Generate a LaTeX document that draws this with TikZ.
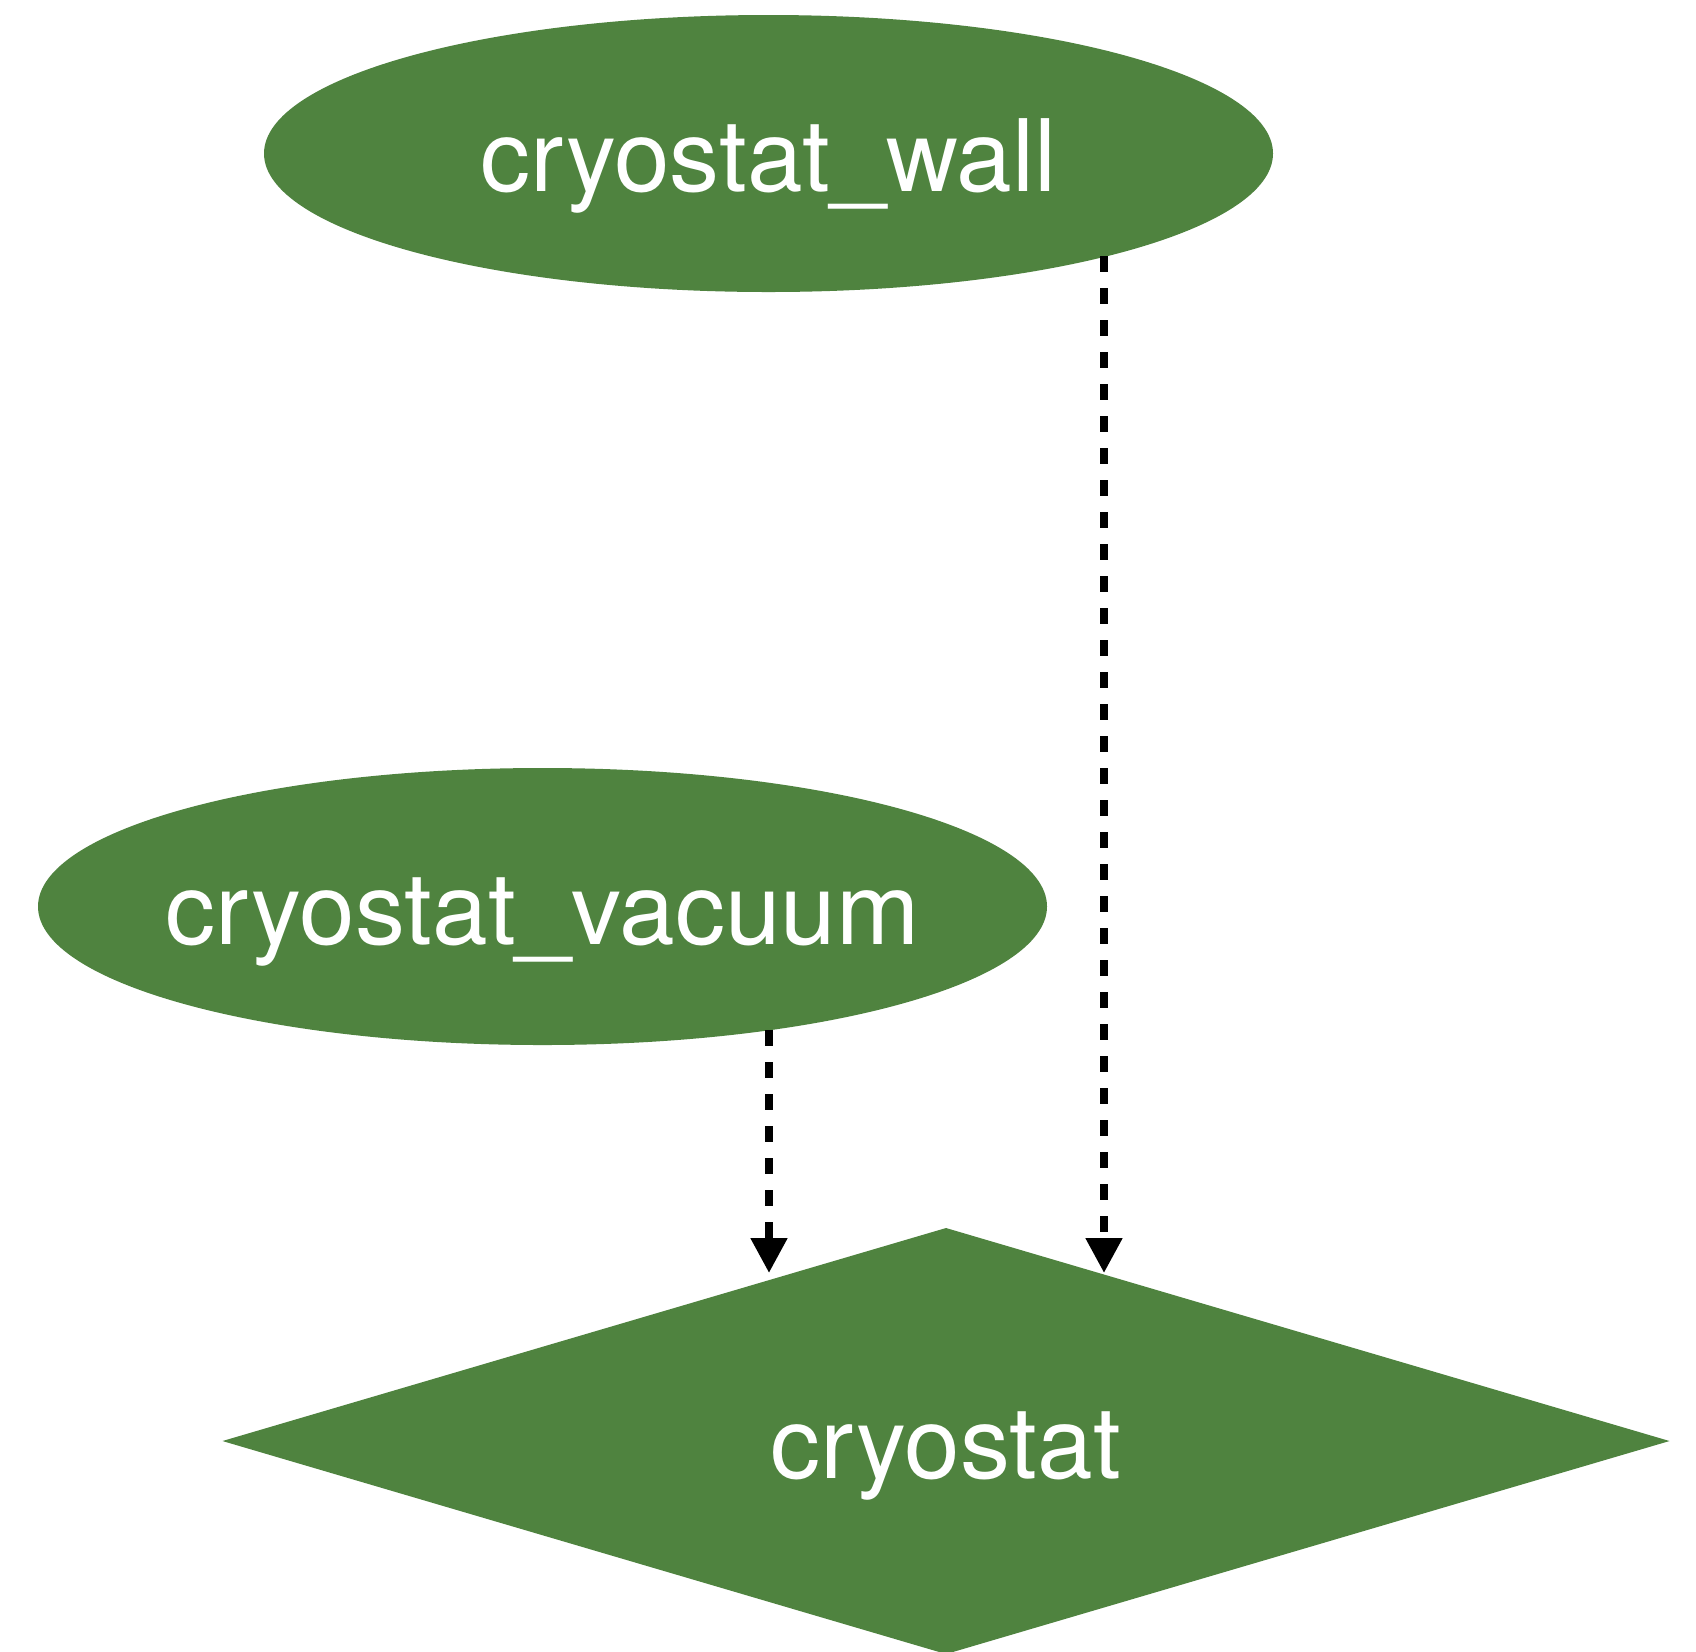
\documentclass[tikz,border=0pt]{standalone}
\usepackage{fontspec}
\setmainfont{TeX Gyre Heros}
\usetikzlibrary{shapes.geometric,arrows.meta}
\definecolor{nodegreen}{RGB}{79,131,63}
\newcommand{\ctext}[1]{\makebox[0pt][c]{#1}}
\begin{document}
\begin{tikzpicture}[x=0.5pt,y=-0.5pt,
  lbl/.style={fill=nodegreen,text=white,inner sep=0pt,outer sep=0pt,
    font=\fontsize{50}{60}\selectfont,text height=37.5pt,text depth=0pt},
  blob/.style={lbl,ellipse,minimum width=504.5pt,minimum height=138.5pt},
  gem/.style={lbl,diamond,minimum width=723.5pt,minimum height=213pt},
  link/.style={draw=black,line width=4pt,dash pattern=on 8pt off 8pt,
    -{Triangle[length=17.5pt,width=17.5pt]}}]
  % canvas
  \fill[white] (0,0) rectangle (1696,1651);
  \useasboundingbox (0,0) rectangle (1696,1651);

  % nodes
  \node[blob] (wall) at (768.5,153.5) {\ctext{cryostat\_wall}};
  \node[blob] (vac)  at (542.5,906.5) {\ctext{cryostat\_vacuum}};
  \node[gem]  (cryo) at (946,1441)    {\ctext{cryostat}};

  % dependencies: each leaves the lower rim of its ellipse and drops
  % straight onto the upper edge of the diamond
  \draw[link] ([xshift=113.25pt,yshift=-61.75pt]vac.center)
           -- ([xshift=-88.5pt,yshift=84pt]cryo.center);
  \draw[link] ([xshift=167.75pt,yshift=-51.25pt]wall.center)
           -- ([xshift=79pt,yshift=84pt]cryo.center);
\end{tikzpicture}
\end{document}
